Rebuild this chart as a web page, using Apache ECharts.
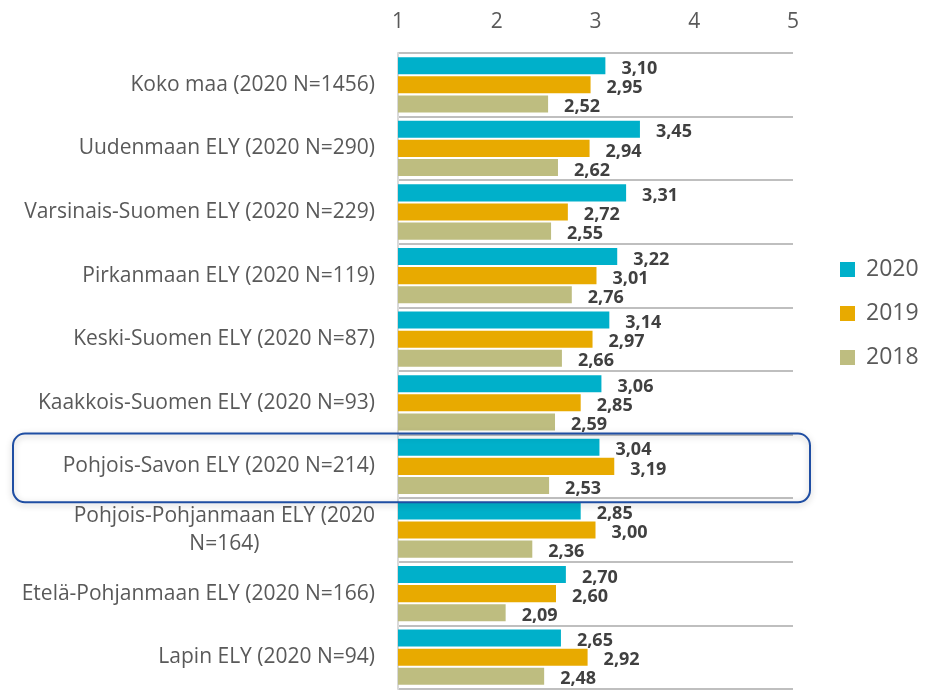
<!DOCTYPE html>
<html>
<head>
<meta charset="utf-8">
<script src="https://cdn.jsdelivr.net/npm/echarts@6/dist/echarts.min.js"></script>
<style>
  html, body { margin: 0; padding: 0; background: #fff; }
  #chart { width: 929px; height: 692px; }
</style>
</head>
<body>
<div id="chart"></div>
<script>
const categories = [
  'Koko maa (2020 N=1456)',
  'Uudenmaan ELY (2020 N=290)',
  'Varsinais-Suomen ELY (2020 N=229)',
  'Pirkanmaan ELY (2020 N=119)',
  'Keski-Suomen ELY (2020 N=87)',
  'Kaakkois-Suomen ELY (2020 N=93)',
  'Pohjois-Savon ELY (2020 N=214)',
  'Pohjois-Pohjanmaan ELY (2020 N=164)',
  'Etelä-Pohjanmaan ELY (2020 N=166)',
  'Lapin ELY (2020 N=94)'
]
const values2020 = [3.10, 3.45, 3.31, 3.22, 3.14, 3.06, 3.04, 2.85, 2.70, 2.65]
const values2019 = [2.95, 2.94, 2.72, 3.01, 2.97, 2.85, 3.19, 3.00, 2.60, 2.92]
const values2018 = [2.52, 2.62, 2.55, 2.76, 2.66, 2.59, 2.53, 2.36, 2.09, 2.48]
const highlighted = 'Pohjois-Savon ELY (2020 N=214)'

const chart = echarts.init(document.getElementById('chart'))

function fmt(v) {
  return v.toFixed(2).replace('.', ',')
}

function makeSeries(name, data, color) {
  return {
    name,
    type: 'bar',
    data,
    barGap: '12%',
    barCategoryGap: '13%',
    itemStyle: { color },
    label: {
      show: true,
      position: 'right',
      distance: 16,
      offset: [0, 3],
      formatter: p => fmt(p.value),
      fontFamily: 'Open Sans',
      fontWeight: 'bold',
      fontSize: 18,
      color: '#404040'
    }
  }
}

const option = {
  animation: false,
  textStyle: { fontFamily: 'Open Sans' },
  legend: {
    orient: 'vertical',
    left: 835,
    top: 253,
    itemWidth: 15,
    itemHeight: 15,
    itemGap: 21,
    icon: 'rect',
    textStyle: { fontSize: 23, color: '#595959', padding: [0, 0, 0, 6] },
    data: ['2020', '2019', '2018']
  },
  grid: { left: 398, right: 136, top: 53, bottom: 3 },
  xAxis: {
    type: 'value',
    position: 'top',
    min: 1,
    max: 5,
    interval: 1,
    axisLine: { show: false },
    axisTick: { show: false },
    splitLine: { show: false },
    axisLabel: { fontSize: 21, color: '#595959', margin: 20 }
  },
  yAxis: {
    type: 'category',
    inverse: true,
    data: categories,
    axisLine: { show: true, lineStyle: { color: '#d9d9d9', width: 2 } },
    axisTick: { show: false },
    splitLine: { show: true, lineStyle: { color: '#bfbfbf', width: 2 } },
    axisLabel: {
      fontSize: 21,
      color: '#595959',
      margin: 23,
      formatter: function (name) {
        if (name.length > 34) {
          const i = name.lastIndexOf(' ')
          return '{c|' + name.slice(0, i) + '}\n{c|' + name.slice(i + 1) + '}'
        }
        return name
      },
      rich: {
        c: { align: 'center', fontSize: 21, color: '#595959', lineHeight: 28 }
      }
    }
  },
  series: [
    makeSeries('2020', values2020, '#00b0ca'),
    makeSeries('2019', values2019, '#e8aa00'),
    makeSeries('2018', values2018, '#bebd80')
  ]
}

chart.setOption(option)

// highlight box around the selected region
const yc = chart.convertToPixel({ yAxisIndex: 0 }, highlighted)
const band = (692 - 3 - 53) / categories.length
chart.setOption({
  graphic: [{
    type: 'rect',
    shape: { x: 13, y: yc - band / 2 - 1, width: 797, height: band + 5, r: 12 },
    style: {
      fill: 'none',
      stroke: '#1f4ea3',
      lineWidth: 2,
      shadowBlur: 6,
      shadowOffsetY: 2,
      shadowColor: 'rgba(0,0,0,0.25)'
    },
    z: 10
  }]
})
</script>
</body>
</html>
